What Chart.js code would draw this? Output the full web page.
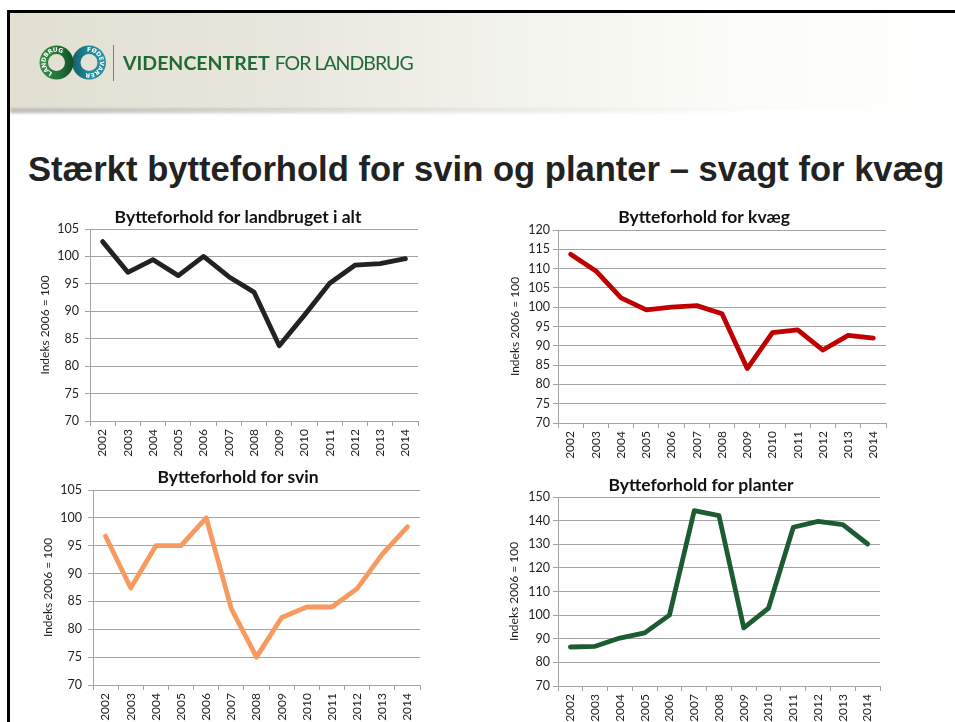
<!DOCTYPE html>
<html lang="da">
<head>
<meta charset="UTF-8">
<title>Bytteforhold</title>
<style>
    body { margin: 0; width: 955px; height: 722px; overflow: hidden; background: #fff; position: relative; font-family: Lato, sans-serif; }
    .abs { position: absolute; }
    #frameTop { left: 7px; top: 10px; width: 948px; height: 3px; background: #000; }
    #frameLeft { left: 7px; top: 10px; width: 3px; height: 712px; background: #000; }
    #band { left: 10px; top: 13px; width: 945px; height: 97px;
        background: linear-gradient(to right, #e2dfd2 0%, #e9e7dd 30%, #f4f4ee 55%, #fbfbf7 75%, #ffffff 100%); }
    #shadow { left: 10px; top: 109px; width: 760px; height: 4px; filter: blur(1.5px);
        background: linear-gradient(to right, rgba(120,120,110,0.55), rgba(150,150,140,0.3) 50%, rgba(200,200,200,0)); }
    #sep { left: 113px; top: 45px; width: 1px; height: 36px; background: #5f8f62; }
    #brand { left: 123px; top: 53px; font-size: 19.5px; line-height: 20px; color: #1f6a36; white-space: nowrap; }
    #brand b { font-weight: 700; }
    #brand span { letter-spacing: -1px; }
    #heading { left: 28px; top: 149px; font-family: "Liberation Sans", Arial, sans-serif; font-weight: 700;
        font-size: 34.6px; line-height: 40px; color: #222; white-space: nowrap; }
</style>
</head>
<body>
<div id="frameTop" class="abs"></div>
<div id="band" class="abs"></div>
<div id="shadow" class="abs"></div>
<div id="frameLeft" class="abs"></div>
<canvas id="logo" class="abs" width="90" height="56" style="left:30px;top:35px;"></canvas>
<div id="sep" class="abs"></div>
<div id="brand" class="abs"><b>VIDENCENTRET</b> <span>FOR LANDBRUG</span></div>
<div id="heading" class="abs">Stærkt bytteforhold for svin og planter – svagt for kvæg</div>

<canvas id="chartTotal" class="abs" width="416" height="262" style="left:30px;top:200px;"></canvas>
<canvas id="chartCattle" class="abs" width="408" height="262" style="left:500px;top:200px;"></canvas>
<canvas id="chartPigs" class="abs" width="416" height="262" style="left:30px;top:460px;"></canvas>
<canvas id="chartPlants" class="abs" width="402" height="257" style="left:500px;top:465px;"></canvas>

<script src="https://cdn.jsdelivr.net/npm/chart.js"></script>
<script>
    // data
    const years = ['2002', '2003', '2004', '2005', '2006', '2007', '2008', '2009', '2010', '2011', '2012', '2013', '2014'];
    const totalValues = [102.7, 97.1, 99.4, 96.5, 100.0, 96.3, 93.5, 83.7, 89.3, 95.1, 98.4, 98.7, 99.6];
    const cattleValues = [113.7, 109.4, 102.4, 99.3, 100.0, 100.4, 98.3, 84.1, 93.4, 94.1, 88.9, 92.7, 92.0];
    const pigValues = [96.7, 87.4, 95.0, 95.0, 100.0, 83.7, 75.0, 82.1, 84.0, 84.0, 87.3, 93.5, 98.4];
    const plantValues = [86.5, 86.8, 90.3, 92.5, 100.0, 144.2, 142.1, 94.6, 103.0, 137.2, 139.7, 138.3, 130.1];
    const yAxisTitle = 'Indeks 2006 = 100';

    const GRID = '#a3a3a3';
    const TEXT = '#1e1e1e';

    Chart.defaults.font.family = 'Lato, sans-serif';

    function makeChart(id, cfg) {
        return new Chart(document.getElementById(id), {
            type: 'line',
            data: {
                labels: years,
                datasets: [{
                    data: cfg.values,
                    borderColor: cfg.color,
                    borderWidth: 4.8,
                    borderJoinStyle: 'round',
                    borderCapStyle: 'round',
                    pointRadius: 0,
                    tension: 0,
                    fill: false
                }]
            },
            options: {
                responsive: false,
                animation: false,
                events: [],
                layout: { padding: 0 },
                plugins: {
                    legend: { display: false },
                    tooltip: { enabled: false },
                    title: {
                        display: true,
                        text: cfg.title,
                        color: '#111',
                        font: { size: 17.5, weight: 'bold' },
                        padding: { top: cfg.titleTop, bottom: cfg.titleBottom }
                    }
                },
                scales: {
                    x: {
                        offset: true,
                        grid: { offset: true, drawOnChartArea: false, drawTicks: true, tickLength: 5, color: GRID },
                        border: { color: GRID },
                        ticks: { autoSkip: false, maxRotation: 90, minRotation: 90, padding: 3, color: TEXT, font: { size: 12 } },
                        afterFit: (s) => {
                            s.height = cfg.xHeight;
                            s.paddingLeft = 0;
                            s.paddingRight = cfg.padRight;
                        }
                    },
                    y: {
                        min: cfg.min,
                        max: cfg.max,
                        ticks: { stepSize: cfg.step, padding: cfg.tickPad, color: TEXT, font: { size: 12.5 } },
                        grid: { color: GRID, tickLength: 5 },
                        border: { color: GRID },
                        title: {
                            display: true,
                            text: yAxisTitle,
                            color: TEXT,
                            font: { size: 12 },
                            padding: { top: cfg.yTitlePad, bottom: 0 }
                        },
                        afterFit: (s) => { s.width = cfg.yWidth; }
                    }
                }
            }
        });
    }

    makeChart('chartTotal', {
        title: 'Bytteforhold for landbruget i alt', values: totalValues, color: '#222222',
        min: 70, max: 105, step: 5,
        titleTop: 6.5, titleBottom: 1.5, xHeight: 41, padRight: 28, yWidth: 60, yTitlePad: 7.8, tickPad: 6
    });
    makeChart('chartCattle', {
        title: 'Bytteforhold for kvæg', values: cattleValues, color: '#c00000',
        min: 70, max: 120, step: 5,
        titleTop: 6.5, titleBottom: 2.5, xHeight: 39, padRight: 22, yWidth: 58, yTitlePad: 7.8, tickPad: 3
    });
    makeChart('chartPigs', {
        title: 'Bytteforhold for svin', values: pigValues, color: '#f79a60',
        min: 70, max: 105, step: 5,
        titleTop: 6.5, titleBottom: 2.5, xHeight: 37, padRight: 26, yWidth: 63, yTitlePad: 10.8, tickPad: 6
    });
    makeChart('chartPlants', {
        title: 'Bytteforhold for planter', values: plantValues, color: '#1d5c33',
        min: 70, max: 150, step: 10,
        titleTop: 9.5, titleBottom: 1.5, xHeight: 36, padRight: 22, yWidth: 58, yTitlePad: 6.8, tickPad: 3
    });

    // logo: two rings with text running round them
    function ring(ctx, cx, cy, R, r, fill, word, startAngle) {
        ctx.beginPath();
        ctx.arc(cx, cy, R, 0, Math.PI * 2);
        ctx.arc(cx, cy, r, 0, Math.PI * 2, true);
        ctx.fillStyle = fill;
        ctx.fill();

        const rr = (R + r) / 2;
        ctx.fillStyle = '#fff';
        ctx.font = 'bold 6px "DejaVu Sans", sans-serif';
        ctx.textAlign = 'center';
        ctx.textBaseline = 'middle';
        let a = startAngle;
        for (const ch of word) {
            const w = ctx.measureText(ch).width + 0.6;
            const step = w / rr;
            a += step / 2;
            ctx.save();
            ctx.translate(cx + rr * Math.cos(a), cy + rr * Math.sin(a));
            ctx.rotate(a + Math.PI / 2);
            ctx.fillText(ch, 0, 0.3);
            ctx.restore();
            a += step / 2;
        }
    }

    function drawLogo() {
        const ctx = document.getElementById('logo').getContext('2d');
        const gTeal = ctx.createLinearGradient(42, 0, 76, 0);
        gTeal.addColorStop(0, '#14606c');
        gTeal.addColorStop(0.5, '#1f8a9a');
        gTeal.addColorStop(1, '#2a93a0');
        ring(ctx, 59, 27.5, 17, 8.5, gTeal, 'FØDEVARER', -1.75);
        const gGreen = ctx.createLinearGradient(9, 0, 44, 0);
        gGreen.addColorStop(0, '#3a9447');
        gGreen.addColorStop(0.6, '#1f7136');
        gGreen.addColorStop(1, '#0e4d27');
        ring(ctx, 26.5, 27.5, 17, 8.5, gGreen, 'LANDBRUG', 1.95);
    }
    drawLogo();
</script>
</body>
</html>
